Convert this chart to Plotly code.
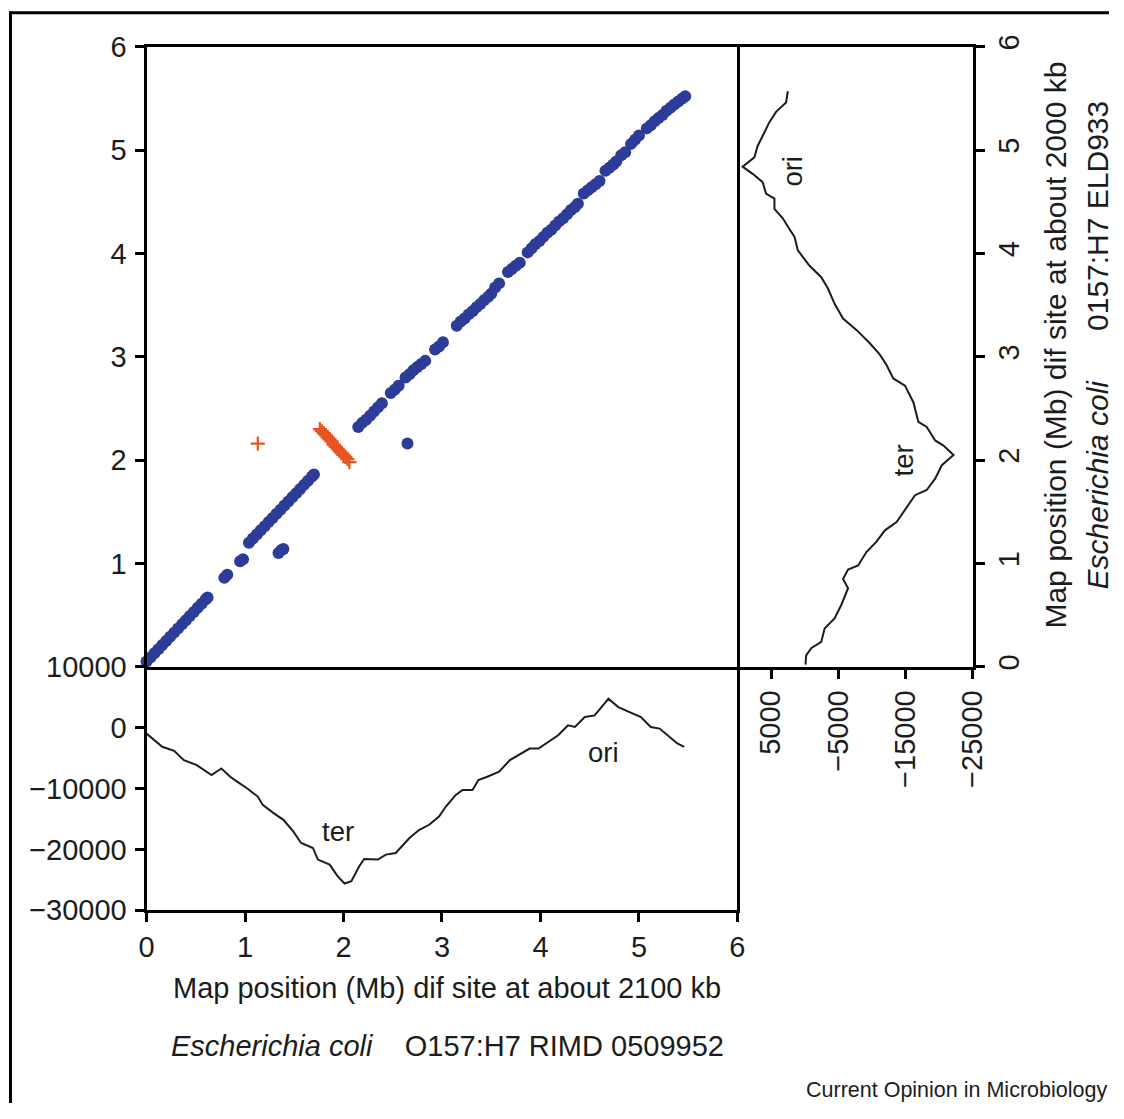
import plotly.graph_objects as go

# ---------------------------------------------------------------------------
# Data
# ---------------------------------------------------------------------------
# Dot plot of conserved genes: O157:H7 RIMD 0509952 position (x, Mb)
# against O157:H7 ELD933 position (y, Mb). Blue = same orientation.
colinear_x = [
    0.00, 0.04, 0.08, 0.12, 0.16, 0.20, 0.24, 0.28, 0.32, 0.36, 0.40, 0.44,
    0.48, 0.52, 0.56, 0.60, 0.62,
    0.79, 0.82, 0.95, 0.98,
    1.04, 1.08, 1.12, 1.16, 1.20, 1.24, 1.28, 1.32, 1.36, 1.40, 1.44, 1.48,
    1.52, 1.56, 1.60, 1.64, 1.68, 1.70,
    1.34, 1.37, 1.39,
    2.65,
    2.15, 2.19, 2.23, 2.27, 2.31, 2.35, 2.39,
    2.48, 2.52, 2.56,
    2.63, 2.67, 2.71, 2.75, 2.79, 2.83,
    2.93, 2.97, 3.01,
    3.15, 3.19, 3.23, 3.27, 3.31, 3.35, 3.39, 3.43, 3.47, 3.50,
    3.54, 3.58,
    3.67, 3.71, 3.75, 3.79,
    3.87, 3.91, 3.95, 3.99, 4.03, 4.07, 4.11, 4.15, 4.19, 4.23, 4.27, 4.31,
    4.35, 4.38,
    4.44, 4.48, 4.52, 4.56, 4.60,
    4.66, 4.70, 4.74, 4.77,
    4.82, 4.86,
    4.92, 4.96, 5.00,
    5.08, 5.12, 5.16, 5.20, 5.24, 5.28, 5.32, 5.36, 5.40, 5.44, 5.47,
]
colinear_y = [
    0.05, 0.09, 0.13, 0.17, 0.21, 0.25, 0.29, 0.33, 0.37, 0.41, 0.45, 0.49,
    0.53, 0.57, 0.61, 0.65, 0.67,
    0.86, 0.89, 1.02, 1.04,
    1.20, 1.24, 1.28, 1.32, 1.36, 1.40, 1.44, 1.48, 1.52, 1.56, 1.60, 1.64,
    1.68, 1.72, 1.76, 1.80, 1.84, 1.86,
    1.10, 1.13, 1.14,
    2.16,
    2.32, 2.36, 2.39, 2.43, 2.47, 2.51, 2.55,
    2.65, 2.68, 2.72,
    2.80, 2.83, 2.87, 2.90, 2.93, 2.96,
    3.07, 3.10, 3.14,
    3.30, 3.34, 3.37, 3.41, 3.44, 3.48, 3.51, 3.55, 3.58, 3.61,
    3.67, 3.71,
    3.82, 3.85, 3.88, 3.91,
    4.01, 4.05, 4.09, 4.12, 4.16, 4.20, 4.23, 4.27, 4.31, 4.34, 4.38, 4.42,
    4.45, 4.48,
    4.58, 4.61, 4.64, 4.67, 4.70,
    4.80, 4.83, 4.86, 4.89,
    4.95, 4.98,
    5.06, 5.10, 5.14,
    5.21, 5.24, 5.28, 5.31, 5.34, 5.38, 5.41, 5.44, 5.47, 5.50, 5.52,
]

# Red = inverted segments
inverted_x = [1.13, 1.76, 1.78, 1.80, 1.82, 1.84, 1.86, 1.88, 1.90, 1.92,
              1.94, 1.96, 1.98, 2.00, 2.02, 2.04, 2.06]
inverted_y = [2.16, 2.30, 2.28, 2.26, 2.24, 2.22, 2.20, 2.18, 2.15, 2.13,
              2.11, 2.09, 2.07, 2.05, 2.03, 2.01, 1.98]

# Cumulative skew along the RIMD 0509952 chromosome (bottom panel)
bottom_pos = [0.00, 0.16, 0.28, 0.38, 0.51, 0.66, 0.76, 0.85, 0.92, 1.02,
              1.13, 1.18, 1.29, 1.39, 1.49, 1.57, 1.69, 1.74, 1.86, 1.94,
              2.01, 2.08, 2.16, 2.21, 2.35, 2.43, 2.53, 2.67, 2.77, 2.87,
              2.97, 3.04, 3.14, 3.21, 3.31, 3.37, 3.46, 3.58, 3.69, 3.78,
              3.89, 3.98, 4.08, 4.18, 4.28, 4.35, 4.45, 4.55, 4.62, 4.69,
              4.79, 4.91, 5.02, 5.12, 5.21, 5.33, 5.39, 5.46]
bottom_skew = [-980, -3150, -3810, -5340, -6150, -7780, -6700, -8060, -8870,
               -9960, -11320, -12690, -14040, -15140, -17040, -18940, -19760,
               -21670, -22490, -24390, -25590, -25200, -22750, -21560, -21670,
               -20850, -20580, -18130, -16770, -15950, -14590, -12950, -11050,
               -10230, -10230, -8600, -8060, -7240, -5340, -4520, -3430, -3430,
               -2340, -1250, 380, 110, 1740, 2010, 3380, 4740, 3380, 2560,
               1740, 110, -160, -1800, -2610, -3150]

# Cumulative skew along the ELD933 chromosome (right panel)
right_pos = [0.02, 0.11, 0.18, 0.24, 0.37, 0.47, 0.60, 0.76, 0.85, 0.94,
             0.98, 1.11, 1.21, 1.32, 1.40, 1.56, 1.66, 1.71, 1.82, 1.95,
             2.05, 2.14, 2.19, 2.32, 2.37, 2.56, 2.72, 2.79, 2.92, 3.02,
             3.13, 3.26, 3.37, 3.51, 3.66, 3.77, 3.88, 4.03, 4.16, 4.26,
             4.34, 4.43, 4.53, 4.58, 4.69, 4.77, 4.84, 4.93, 5.04, 5.17,
             5.27, 5.37, 5.46, 5.57]
right_skew = [-130, -230, -980, -2475, -2980, -4480, -5470, -6470, -5720,
              -6470, -7960, -9200, -10700, -11950, -13690, -15440, -16430,
              -18170, -19430, -20420, -22160, -20670, -19430, -18170, -16930,
              -16180, -14940, -13190, -12190, -11200, -9710, -7710, -5720,
              -4480, -3480, -2475, -740, 1010, 1500, 2500, 3250, 4490, 4490,
              5750, 6240, 7740, 9230, 7480, 6990, 5990, 5240, 4250, 2757, 2500]

map_ticks = [0, 1, 2, 3, 4, 5, 6]
main_y_ticks = [1, 2, 3, 4, 5, 6]
bottom_skew_ticks = [-30000, -20000, -10000, 0, 10000]
bottom_skew_text = ["\u221230000", "\u221220000", "\u221210000", "0", "10000"]
right_skew_ticks = [5000, -5000, -15000, -25000]
right_skew_text = ["5000", "\u22125000", "\u221215000", "\u221225000"]

# ---------------------------------------------------------------------------
# Styling / layout helpers
# ---------------------------------------------------------------------------
W, H = 1124, 1119
# Placement of the figure on the final page image (offset and scale).
OX, SX = 7.0, 0.983
OY, SY = 14.2, 0.973
FONT = "Liberation Sans, Arial, Helvetica, sans-serif"
INK = "#1c1c1c"
BLUE = "#2d3c98"
RED = "#e8531f"


def fx(px):
    """Page x position (px) -> figure paper fraction."""
    return ((px - OX) / SX) / W


def fy(py):
    """Page y position (px, from top) -> figure paper fraction."""
    return 1 - ((py - OY) / SY) / H


X_MAIN = [fx(146), fx(739)]
X_RIGHT = [fx(739), fx(975)]
Y_MAIN = [fy(666), fy(45)]
Y_BOTTOM = [fy(910), fy(666)]

tickfont = dict(family=FONT, size=29, color=INK)
axis_common = dict(
    showline=True, linecolor="black", linewidth=3,
    showgrid=False, zeroline=False, ticklen=9, tickwidth=2.5,
    tickcolor="black", tickfont=tickfont, fixedrange=True,
)

fig = go.Figure()

fig.add_trace(go.Scatter(
    x=colinear_x, y=colinear_y, mode="markers", xaxis="x", yaxis="y",
    marker=dict(size=12, color=BLUE), cliponaxis=False, hoverinfo="skip",
))
fig.add_trace(go.Scatter(
    x=inverted_x, y=inverted_y, mode="markers", xaxis="x", yaxis="y",
    marker=dict(symbol="cross-thin", size=10, color=RED,
                line=dict(width=2.2, color=RED)),
    hoverinfo="skip",
))
fig.add_trace(go.Scatter(
    x=bottom_pos, y=bottom_skew, mode="lines", xaxis="x2", yaxis="y2",
    line=dict(color=INK, width=2), hoverinfo="skip",
))
fig.add_trace(go.Scatter(
    x=right_skew, y=right_pos, mode="lines", xaxis="x3", yaxis="y3",
    line=dict(color=INK, width=2), hoverinfo="skip",
))

# Shared edges are drawn by one axis only so they keep a single line width.
fig.update_layout(
    width=W, height=H, autosize=False,
    margin=dict(l=0, r=0, t=0, b=0),
    paper_bgcolor="white", plot_bgcolor="white",
    showlegend=False,
    xaxis=dict(domain=X_MAIN, range=[0, 6], anchor="y", ticks="",
               showticklabels=False, mirror=True, **axis_common),
    yaxis=dict(domain=Y_MAIN, range=[0, 6], anchor="x", ticks="outside",
               tickvals=main_y_ticks, ticklabelstandoff=2, mirror=True,
               **axis_common),
    xaxis2=dict(domain=X_MAIN, range=[0, 6], anchor="y2", ticks="outside",
                tickvals=map_ticks, mirror=False, **axis_common),
    yaxis2=dict(domain=Y_BOTTOM, range=[-30000, 10000], anchor="x2",
                ticks="outside", tickvals=bottom_skew_ticks,
                ticktext=bottom_skew_text, ticklabelstandoff=2, mirror=True,
                **axis_common),
    xaxis3=dict(domain=X_RIGHT, range=[10000, -25000], anchor="y3",
                ticks="outside", tickvals=right_skew_ticks,
                ticktext=right_skew_text, tickangle=-90, mirror=True,
                **axis_common),
    yaxis3=dict(domain=Y_MAIN, range=[0, 6], anchor="x3", side="right",
                ticks="outside", tickvals=map_ticks, tickangle=-90,
                mirror=False, **axis_common),
)

label_font = dict(family=FONT, size=27.5, color=INK)
title_font = dict(family=FONT, size=29, color=INK)
side_title_font = dict(family=FONT, size=30, color=INK)
annotations = [
    dict(x=1.94, y=-17000, xref="x2", yref="y2", text="ter",
         showarrow=False, font=label_font),
    dict(x=4.64, y=-4100, xref="x2", yref="y2", text="ori",
         showarrow=False, font=label_font),
    dict(x=-14700, y=2.0, xref="x3", yref="y3", text="ter", textangle=-90,
         showarrow=False, font=label_font),
    dict(x=1750, y=4.80, xref="x3", yref="y3", text="ori", textangle=-90,
         showarrow=False, font=label_font),
    dict(x=fx(448), y=fy(988), xref="paper", yref="paper",
         text="Map position (Mb) dif site at about 2100 kb",
         showarrow=False, font=title_font, xanchor="center", yanchor="middle"),
    dict(x=fx(448), y=fy(1046), xref="paper", yref="paper",
         text="<i>Escherichia coli</i>\u00a0\u00a0\u00a0\u00a0O157:H7 RIMD 0509952",
         showarrow=False, font=title_font, xanchor="center", yanchor="middle"),
    dict(x=fx(1058), y=fy(344), xref="paper", yref="paper",
         text="Map position (Mb) dif site at about 2000 kb", textangle=-90,
         showarrow=False, font=side_title_font, xanchor="center",
         yanchor="middle"),
    dict(x=fx(1100), y=fy(344), xref="paper", yref="paper",
         text="<i>Escherichia coli</i>\u00a0\u00a0\u00a0\u00a0\u00a0\u00a00157:H7 ELD933",
         textangle=-90, showarrow=False, font=side_title_font,
         xanchor="center", yanchor="middle"),
    dict(x=1, y=fy(1090), xref="paper", yref="paper",
         text="Current Opinion in Microbiology", showarrow=False,
         font=dict(family=FONT, size=21.5, color=INK),
         xanchor="right", yanchor="middle"),
]
fig.update_layout(annotations=annotations)

# Outer figure frame (left and top edges)
fig.update_layout(shapes=[
    dict(type="line", xref="paper", yref="paper",
         x0=fx(9.5), x1=fx(9.5), y0=fy(10), y1=0,
         line=dict(color="black", width=3)),
    dict(type="line", xref="paper", yref="paper",
         x0=fx(8), x1=1, y0=fy(11), y1=fy(11),
         line=dict(color="black", width=3)),
])

fig.write_html("out.html")
